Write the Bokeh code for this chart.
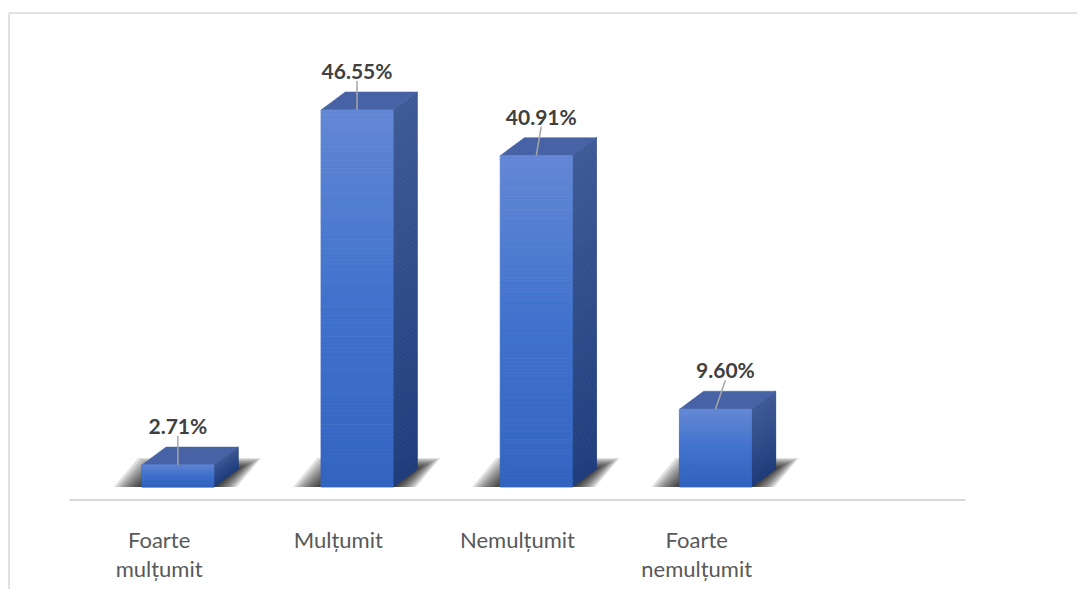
import numpy as np
from bokeh.plotting import figure
from bokeh.models import Range1d
from bokeh.core.properties import value
from bokeh.embed import file_html
from bokeh.resources import INLINE

# ---------------- data ----------------
categories = ["Foarte mulțumit", "Mulțumit", "Nemulțumit", "Foarte nemulțumit"]
category_lines = [["Foarte", "mulțumit"], ["Mulțumit"], ["Nemulțumit"], ["Foarte", "nemulțumit"]]
values = [2.71, 46.55, 40.91, 9.60]
value_labels = ["2.71%", "46.55%", "40.91%", "9.60%"]
n_slots = 5  # the category axis spans five slots (last one empty)

# ---------------- layout (pixels) ----------------
W, H = 1077, 589
SX = 179.2      # px per category slot
SY = 8.1        # px per percent
AX_LEFT = 69.0  # px from left where the category axis starts
BASE = 486.5    # px from top where value 0 lies
FRONT_L, FRONT_R = -17.3, 54.8   # front face edges relative to slot centre (px)
DEPTH_X, DEPTH_Y = 24.2, 18.0    # 3-D depth offset (px)
LABEL_NUDGE = [0, 0, 5, 10]      # label x offsets (px)


def xpx(px):
    return px / SX


def ypx(py):
    return py / SY


x_start = -0.5 - AX_LEFT / SX
x_end = x_start + W / SX
y_start = -(H - BASE) / SY
y_end = y_start + H / SY

p = figure(width=W, height=H, output_backend="svg", toolbar_location=None,
           x_range=Range1d(x_start, x_end), y_range=Range1d(y_start, y_end),
           x_axis_location=None, y_axis_location=None, min_border=0)
p.grid.visible = False
p.outline_line_color = None
p.background_fill_color = "white"
p.border_fill_color = "white"

# chart border (top and left edges visible)
top_y = y_end - ypx(12.5)
left_x = x_start + xpx(8.6)
p.segment(x0=[left_x, left_x], y0=[top_y, top_y], x1=[x_end, left_x], y1=[top_y, y_start],
          line_color="#d9d9d9", line_width=1.6)

dx = xpx(DEPTH_X)
dy = ypx(DEPTH_Y)


def lerp_color(stops, t):
    ts = [s[0] for s in stops]
    cols = np.array([s[1] for s in stops], dtype=float)
    c = [np.interp(t, ts, cols[:, k]) for k in range(3)]
    return "#%02x%02x%02x" % tuple(int(round(v)) for v in c)


front_stops = [(0.0, (99, 136, 213)), (0.5, (64, 114, 205)), (1.0, (51, 100, 193))]
side_stops = [(0.0, (62, 90, 150)), (1.0, (32, 61, 124))]
top_color = "#4763a5"

# soft shadows at the base of the bars
for i, v in enumerate(values):
    fl = i + xpx(FRONT_L)
    fr = i + xpx(FRONT_R)
    xs, ys = [], []
    for k in range(10, 0, -1):
        el = xpx(2.8 * k)
        er = xpx(2.3 * k)
        et = ypx(1.1 * k)
        xs.append([fl - el, fr + er, fr + dx + er, fl + dx - el])
        ys.append([0.0, 0.0, dy + et, dy + et])
    p.patches(xs=xs, ys=ys, fill_color="black", fill_alpha=0.12, line_color=None)

# bars
N = 90
for i, v in enumerate(values):
    fl = i + xpx(FRONT_L)
    fr = i + xpx(FRONT_R)
    edges = np.linspace(v, 0.0, N + 1)
    tops, bots = edges[:-1], edges[1:]
    ts = (np.arange(N) + 0.5) / N
    fcols = [lerp_color(front_stops, t) for t in ts]
    scols = [lerp_color(side_stops, t) for t in ts]
    # side face strips
    sxs = [[fr, fr + dx, fr + dx, fr] for _ in range(N)]
    sys_ = [[b, b + dy, t + dy, t] for t, b in zip(tops, bots)]
    p.patches(xs=sxs, ys=sys_, fill_color=scols, line_color=scols, line_width=0.8)
    # top face
    p.patch(x=[fl, fr, fr + dx, fl + dx], y=[v, v, v + dy, v + dy],
            fill_color=top_color, line_color=top_color, line_width=0.5)
    # front face strips
    p.quad(left=[fl] * N, right=[fr] * N, top=list(tops), bottom=list(bots),
           fill_color=fcols, line_color=fcols, line_width=0.8)

# value labels with leader lines
centers = [i + xpx((FRONT_L + FRONT_R) / 2) for i in range(len(values))]
lab_x = [c + xpx(n) for c, n in zip(centers, LABEL_NUDGE)]
lab_y = [v + ypx(39.5) for v in values]
p.segment(x0=centers, y0=values, x1=lab_x, y1=[v + ypx(29) for v in values],
          line_color="#a6a6a6", line_width=1.5)
p.text(x=lab_x, y=lab_y, text=value_labels, text_font=value("Lato"),
       text_font_size="21px", text_font_style="bold", text_color="#404040",
       text_align="center", text_baseline="alphabetic")

# category axis line
axis_y = -ypx(13.0)
p.segment(x0=[-0.5], y0=[axis_y], x1=[n_slots - 0.5], y1=[axis_y],
          line_color="#d9d9d9", line_width=2)

# category labels
cx, cy, ct = [], [], []
for i, lines in enumerate(category_lines):
    for k, line in enumerate(lines):
        cx.append(i)
        cy.append(-ypx(52.0 + 29.0 * k))
        ct.append(line)
p.text(x=cx, y=cy, text=ct, text_font=value("Lato"), text_font_size="22px",
       text_color="#595959", text_align="center", text_baseline="alphabetic")

open("out.html", "w").write(file_html(p, INLINE))
